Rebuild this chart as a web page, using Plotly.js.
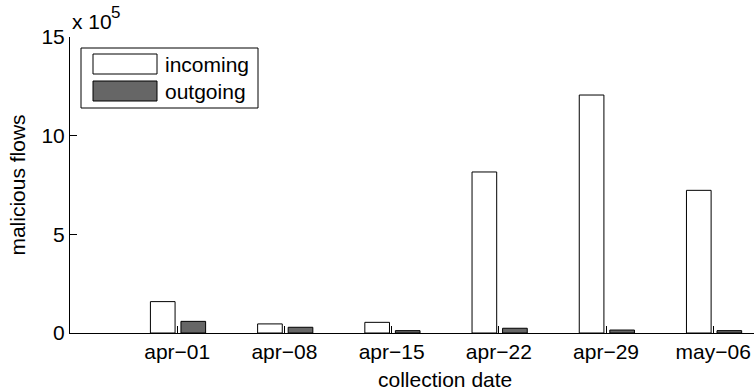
<!DOCTYPE html>
<html><head><meta charset="utf-8">
<script src="https://cdn.plot.ly/plotly-3.0.1.min.js"></script>
<style>html,body{margin:0;padding:0;background:#fff}#chart{width:754px;height:390px}</style>
</head><body><div id="chart"></div>
<script>
const dates = ['apr\u221201','apr\u221208','apr\u221215','apr\u221222','apr\u221229','may\u221206'];
const seriesNames = ['incoming','outgoing'];
const incoming = [159000, 46000, 54000, 816000, 1206000, 723000];
const outgoing = [59000, 29000, 12000, 24000, 15000, 12000];
const yTickVals = [0, 500000, 1000000, 1500000];
const yTickText = ['0','5','10','15'];

const FONT = {family:'Liberation Sans, Arial, sans-serif', size:21, color:'#000'};

const traces = [
  {type:'bar', x:dates, y:incoming, name:seriesNames[0], width:0.23, offset:-0.25,
   marker:{color:'#ffffff', line:{color:'#000', width:1}}, showlegend:false},
  {type:'bar', x:dates, y:outgoing, name:seriesNames[1], width:0.23, offset:0.035,
   marker:{color:'#666666', line:{color:'#000', width:1}}, showlegend:false}
];

const L = 70, R = 754, T = 37, B = 333;
const px = v => (v - L) / (R - L);
const py = v => (B - v) / (B - T);

const shapes = [
  {type:'rect', xref:'paper', yref:'paper', x0:px(81), x1:px(258), y0:py(108), y1:py(48),
   line:{color:'#000', width:1}, fillcolor:'#fff'},
  {type:'rect', xref:'paper', yref:'paper', x0:px(93), x1:px(157), y0:py(74), y1:py(54),
   line:{color:'#000', width:1}, fillcolor:'#fff'},
  {type:'rect', xref:'paper', yref:'paper', x0:px(93), x1:px(157), y0:py(101), y1:py(81),
   line:{color:'#000', width:1}, fillcolor:'#666666'}
];

const annotations = [
  {xref:'paper', yref:'paper', x:px(163), y:py(64), xanchor:'left', yanchor:'middle',
   text:seriesNames[0], showarrow:false, font:FONT},
  {xref:'paper', yref:'paper', x:px(163), y:py(91), xanchor:'left', yanchor:'middle',
   text:seriesNames[1], showarrow:false, font:FONT},
  {xref:'paper', yref:'paper', x:px(71), y:py(21), xanchor:'left', yanchor:'middle',
   text:'x 10', showarrow:false, font:FONT, borderpad:0},
  {xref:'paper', yref:'paper', x:px(110), y:py(13), xanchor:'left', yanchor:'middle',
   text:'5', showarrow:false, font:{family:FONT.family, size:17, color:'#000'}, borderpad:0},
  {xref:'paper', yref:'paper', x:px(445), y:py(379), xanchor:'center', yanchor:'middle',
   text:'collection date', showarrow:false, font:FONT}
];

const layout = {
  width:754, height:390,
  margin:{l:L, r:754-R, t:T, b:390-B, pad:0},
  paper_bgcolor:'#fff', plot_bgcolor:'#fff',
  font:FONT,
  barmode:'overlay',
  showlegend:false,
  xaxis:{type:'category', range:[-1, 5.38], showgrid:false, zeroline:false,
    showline:true, linecolor:'#000', linewidth:1, ticks:'inside', ticklen:7, tickcolor:'#000',
    tickfont:FONT, fixedrange:true},
  yaxis:{range:[0, 1500000], tickvals:yTickVals, ticktext:yTickText, showgrid:false, zeroline:false,
    showline:true, linecolor:'#000', linewidth:1, ticks:'inside', ticklen:7, tickcolor:'#000',
    tickfont:FONT, title:{text:'malicious flows', font:FONT, standoff:10}, fixedrange:true},
  shapes:shapes, annotations:annotations
};

Plotly.newPlot('chart', traces, layout, {displayModeBar:false, staticPlot:true});
</script></body></html>
